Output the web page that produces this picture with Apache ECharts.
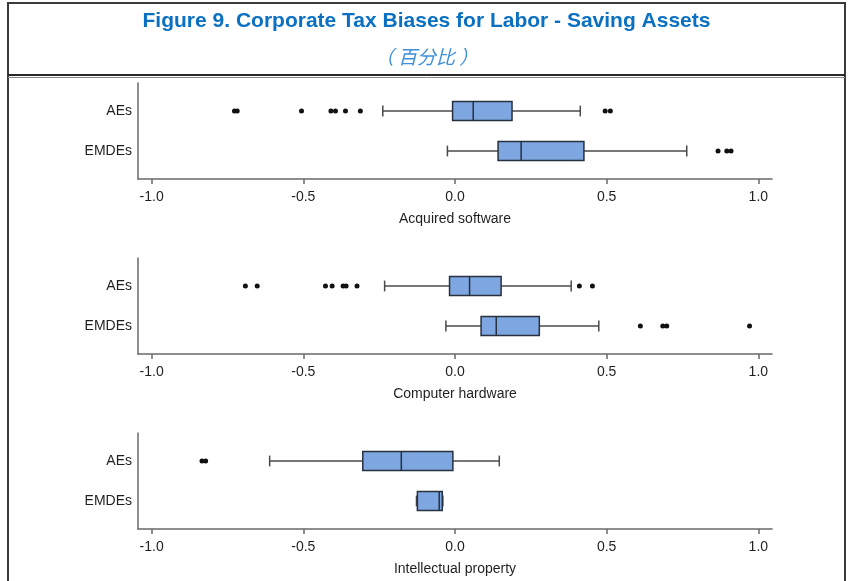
<!DOCTYPE html>
<html>
<head>
<meta charset="utf-8">
<script src="https://cdn.jsdelivr.net/npm/echarts@6/dist/echarts.min.js"></script>
<style>
html,body{margin:0;padding:0;background:#fff;}
#chart{width:853px;height:581px;}
</style>
</head>
<body>
<div id="chart"></div>
<script>
// ---- data ----
const titleText = 'Figure 9. Corporate Tax Biases for Labor - Saving Assets';
const subtitleText = '（ 百分比 ）';
const groups = ['AEs', 'EMDEs'];
const panelNames = ['Acquired software', 'Computer hardware', 'Intellectual property'];
const xTicks = [-1.0, -0.5, 0.0, 0.5, 1.0];

// box stats per group: [lower whisker, Q1, median, Q3, upper whisker]
const softwareAEs = [-0.238, -0.008, 0.060, 0.188, 0.413];
const softwareEMDEs = [-0.025, 0.142, 0.218, 0.425, 0.764];
const hardwareAEs = [-0.232, -0.018, 0.048, 0.152, 0.383];
const hardwareEMDEs = [-0.030, 0.086, 0.136, 0.278, 0.474];
const ipAEs = [-0.611, -0.304, -0.177, -0.007, 0.146];
const ipEMDEs = [-0.127, -0.124, -0.052, -0.042, -0.040];

// outliers per group
const softwareAEsOut = [-0.727, -0.718, -0.506, -0.409, -0.394, -0.361, -0.312, 0.495, 0.512];
const softwareEMDEsOut = [0.867, 0.896, 0.910];
const hardwareAEsOut = [-0.691, -0.652, -0.427, -0.405, -0.369, -0.359, -0.323, 0.410, 0.453];
const hardwareEMDEsOut = [0.611, 0.685, 0.698, 0.971];
const ipAEsOut = [-0.834, -0.822];
const ipEMDEsOut = [];

const panelBoxes = [[softwareAEs, softwareEMDEs], [hardwareAEs, hardwareEMDEs], [ipAEs, ipEMDEs]];
const panelOutliers = [[softwareAEsOut, softwareEMDEsOut], [hardwareAEsOut, hardwareEMDEsOut], [ipAEsOut, ipEMDEsOut]];

// ---- style ----
const FONT = 'Liberation Sans, Arial, sans-serif';
const BOX_FILL = '#7ea6e0';
const BOX_EDGE = '#27313f';
const WHISKER = '#4a4a4a';
const AXIS = '#6a6a6a';
const TEXT = '#1f1f1f';
const gridTops = [83, 258, 433];

function renderBox(params, api) {
  const g = api.value(0);
  const lo = api.coord([api.value(1), g]);
  const q1 = api.coord([api.value(2), g]);
  const md = api.coord([api.value(3), g]);
  const q3 = api.coord([api.value(4), g]);
  const hi = api.coord([api.value(5), g]);
  const band = api.size([0, 1])[1];
  const bh = band * 0.48;
  const ch = band * 0.27;
  const y = lo[1];
  const ws = { stroke: WHISKER, lineWidth: 1.5 };
  return {
    type: 'group',
    children: [
      { type: 'line', shape: { x1: lo[0], y1: y, x2: q1[0], y2: y }, style: ws },
      { type: 'line', shape: { x1: q3[0], y1: y, x2: hi[0], y2: y }, style: ws },
      { type: 'line', shape: { x1: lo[0], y1: y - ch / 2, x2: lo[0], y2: y + ch / 2 }, style: ws },
      { type: 'line', shape: { x1: hi[0], y1: y - ch / 2, x2: hi[0], y2: y + ch / 2 }, style: ws },
      { type: 'rect', shape: { x: q1[0], y: y - bh / 2, width: q3[0] - q1[0], height: bh },
        style: { fill: BOX_FILL, stroke: BOX_EDGE, lineWidth: 1.5 } },
      { type: 'line', shape: { x1: md[0], y1: y - bh / 2, x2: md[0], y2: y + bh / 2 },
        style: { stroke: BOX_EDGE, lineWidth: 1.5 } }
    ]
  };
}

const grids = [], xAxes = [], yAxes = [], series = [];
panelNames.forEach((name, p) => {
  grids.push({ left: 138, right: 81, top: gridTops[p], height: 96 });
  xAxes.push({
    type: 'value', gridIndex: p, min: -1.045, max: 1.045,
    name: name, nameLocation: 'middle', nameGap: 33,
    nameTextStyle: { fontFamily: FONT, fontSize: 14, color: TEXT },
    axisLine: { show: true, onZero: false, lineStyle: { color: AXIS, width: 1.5 } },
    axisTick: { show: true, length: 5, customValues: xTicks, lineStyle: { color: AXIS, width: 1.5 } },
    axisLabel: { customValues: xTicks, margin: 11, fontFamily: FONT, fontSize: 14, color: TEXT,
      formatter: v => v.toFixed(1) },
    splitLine: { show: false }
  });
  yAxes.push({
    type: 'value', gridIndex: p, inverse: true, min: -0.7, max: 1.7,
    axisLine: { show: true, onZero: false, lineStyle: { color: AXIS, width: 1.5 } },
    axisTick: { show: false },
    axisLabel: { customValues: [0, 1], margin: 6, fontFamily: FONT, fontSize: 14, color: TEXT,
      formatter: v => groups[Math.round(v)] },
    splitLine: { show: false }
  });
  series.push({
    type: 'custom', xAxisIndex: p, yAxisIndex: p,
    renderItem: renderBox,
    encode: { x: [1, 2, 3, 4, 5], y: 0 },
    data: panelBoxes[p].map((b, g) => [g].concat(b)),
    silent: true
  });
  const pts = [];
  panelOutliers[p].forEach((arr, g) => arr.forEach(v => pts.push([v, g])));
  series.push({
    type: 'scatter', xAxisIndex: p, yAxisIndex: p,
    symbol: 'circle', symbolSize: 5,
    itemStyle: { color: '#111', opacity: 1 },
    data: pts, silent: true
  });
});

const chart = echarts.init(document.getElementById('chart'), null, { renderer: 'canvas' });
chart.setOption({
  animation: false,
  backgroundColor: '#fff',
  title: [
    { text: titleText, left: 'center', top: 6,
      textStyle: { fontFamily: FONT, fontSize: 21, fontWeight: 'bold', color: '#0a70c2' } },
    { text: subtitleText, left: 'center', top: 42,
      textStyle: { fontFamily: 'Noto Sans CJK SC, sans-serif', fontSize: 19, fontWeight: 'normal',
        fontStyle: 'italic', color: '#3d8fd9' } }
  ],
  graphic: [
    { type: 'rect', silent: true, shape: { x: 8, y: 3, width: 837, height: 640 },
      style: { fill: null, stroke: '#3a3a3a', lineWidth: 2 } },
    { type: 'line', silent: true, shape: { x1: 8, y1: 75, x2: 845, y2: 75 },
      style: { stroke: '#2a2a2a', lineWidth: 2 } },
    { type: 'line', silent: true, shape: { x1: 8, y1: 77.5, x2: 845, y2: 77.5 },
      style: { stroke: '#8a8a8a', lineWidth: 1 } }
  ],
  grid: grids,
  xAxis: xAxes,
  yAxis: yAxes,
  series: series
});
</script>
</body>
</html>
